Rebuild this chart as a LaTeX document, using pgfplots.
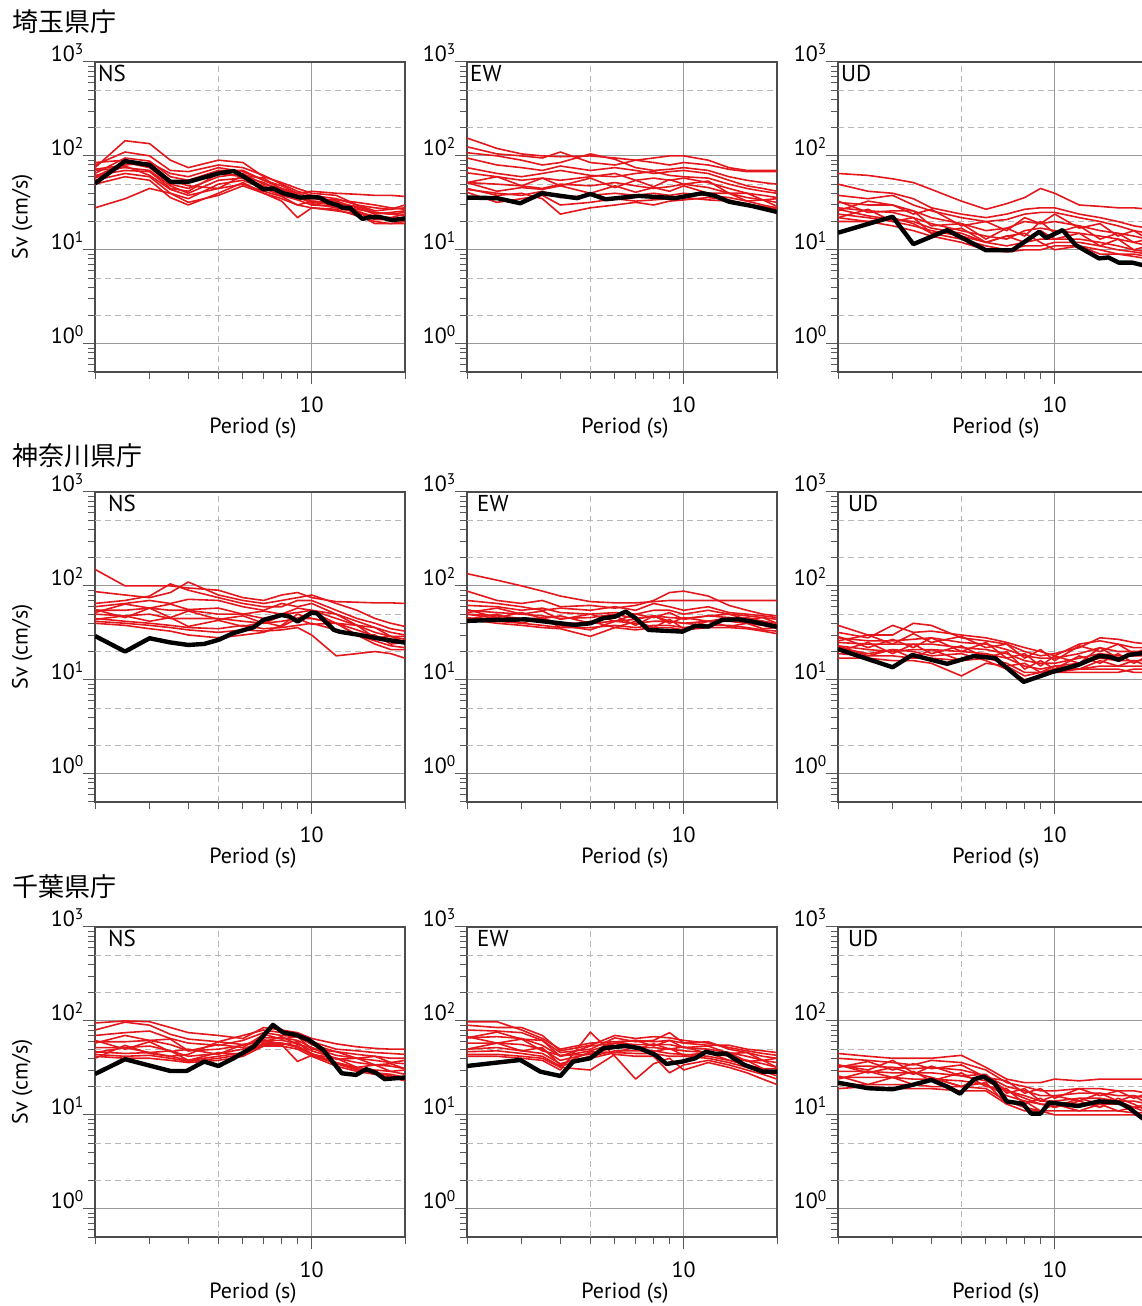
\documentclass[border=0pt]{standalone}
\usepackage{pgfplots}
\pgfplotsset{compat=1.18}
\usepackage{pgfplotstable}
\usepackage{fontspec}
\setmainfont{PT Sans}
\newfontfamily\cjk{Noto Sans CJK JP}
\definecolor{sred}{RGB}{228,24,28}

\pgfplotsset{
 every axis/.append style={
  width=310pt, height=310pt, scale only axis,
  xmin=2, xmax=20, ymin=0.5, ymax=1000,
  xtick={10}, xticklabels={10},
  minor xtick={2,3,4,5,6,7,8,9,20},
  ytick={1,10,100,1000},
  yticklabels={10\textsuperscript{0},10\textsuperscript{1},10\textsuperscript{2},10\textsuperscript{3}},
  minor ytick={0.5,0.6,0.7,0.8,0.9,2,3,4,5,6,7,8,9,20,30,40,50,60,70,80,90,200,300,400,500,600,700,800,900},
  tick align=outside, tick pos=left,
  major tick length=12pt, minor tick length=7pt,
  xmajorgrids, ymajorgrids,
  major grid style={draw=black!40, line width=0.9pt},
  extra x ticks={5}, extra y ticks={2,5,20,50,200,500},
  extra x tick labels={}, extra y tick labels={},
  extra tick style={grid=major, major grid style={draw=black!28, line width=0.9pt, dash pattern=on 6pt off 4pt}, major tick length=0pt},
  axis line style={draw=black!70, line width=1.4pt},
  tick style={draw=black!65, line width=1pt},
  tick label style={font=\fontsize{22}{22}\selectfont, text=black},
  xticklabel style={anchor=north, inner sep=0pt, yshift=-13pt},
  yticklabel style={anchor=base east, inner sep=0pt, xshift=1pt},
  xlabel style={at={(axis description cs:0.5,-0.197)}, anchor=base, xshift=3pt, font=\fontsize{22}{22}\selectfont},
  ylabel style={at={(axis description cs:-0.235,0.5)}, anchor=center, rotate=0, font=\fontsize{22}{22}\selectfont},
  xlabel={Period (s)},
 },
}
\tikzset{
 redl/.style={draw=sred, line width=1.6pt, line join=round, mark=none},
 blk/.style={draw=black, line width=4.4pt, line join=round, mark=none},
 lab/.style={anchor=north west, inner sep=0pt, yshift=-3pt, font=\fontsize{23}{23}\selectfont},
}

% ---------- Row 1: Saitama ----------
\pgfplotstableread{
name c1 c2 c3 c4 c5 c6 c7 c8 c9 c10 c11 c12 c13 c14 c15 c16
P 2 2.5 3 3.5 4 5 6 7 8 9 10 12 14 16 18 20
r1 75 145 135 90 75 90 85 60 52 45 40 38 30 28 27 30
r2 80 110 100 70 68 80 75 62 50 42 38 35 30 26 27 28
r3 65 95 88 60 55 70 70 55 45 40 36 33 28 24 25 26
r4 60 85 75 50 45 60 65 50 45 38 33 32 26 22 22 24
r5 70 75 70 48 40 55 58 48 40 36 32 30 27 25 24 25
r6 55 65 60 40 35 50 55 45 38 34 30 29 25 21 21 22
r7 85 90 80 55 48 45 50 42 37 30 33 31 29 25 24 23
r8 50 60 55 36 30 40 52 40 35 30 28 26 24 19 19 20
r9 28 35 45 40 32 38 48 40 33 22 28 27 23 20 19 19
r10 62 70 68 45 42 65 60 52 42 35 35 34 32 30 28 27
r11 72 80 85 65 60 75 68 55 48 40 42 40 39 38 38 37
r12 58 78 62 44 38 45 62 58 44 38 31 28 25 23 22 21
}\rawAa
\pgfplotstabletranspose[colnames from=name]\tAa{\rawAa}

\pgfplotstableread{
name c1 c2 c3 c4 c5 c6 c7 c8 c9 c10 c11 c12 c13 c14 c15 c16
P 2 2.5 3 3.5 4 5 6 7 8 9 10 12 14 16 18 20
r1 155 120 105 100 98 100 95 90 95 100 100 90 75 70 70 70
r2 125 105 100 95 110 85 80 90 85 80 85 80 72 68 68 68
r3 108 100 90 80 85 105 92 75 70 72 75 70 60 55 52 50
r4 95 80 75 70 78 70 75 70 65 68 70 65 55 48 45 42
r5 75 65 60 65 70 62 60 65 68 62 60 58 50 45 42 40
r6 66 60 55 58 55 60 65 55 58 55 58 52 45 40 38 36
r7 52 60 48 58 48 58 46 55 47 56 50 54 40 40 34 35
r8 52 50 48 45 50 48 52 48 45 47 50 46 40 36 34 32
r9 52 42 46 44 48 40 48 41 46 42 48 40 40 33 34 29
r10 44 40 38 42 36 38 40 38 40 38 40 38 36 33 30 28
r11 41 32 35 38 30 32 35 33 34 35 36 34 33 31 28 26
r12 45 38 40 35 24 28 30 32 30 33 34 36 34 30 29 27
}\rawAb
\pgfplotstabletranspose[colnames from=name]\tAb{\rawAb}

\pgfplotstableread{
name c1 c2 c3 c4 c5 c6 c7 c8 c9 c10 c11 c12 c13 c14 c15 c16
P 2 2.5 3 3.5 4 5 6 7 8 9 10 12 14 16 18 20
r1 65 62 57 52 44 33 27 31 36 45 40 30 29 28 28 27
r2 50 42 40 35 28 24 22 24 27 28 28 24 22 20 18 17
r3 38 35 38 30 26 22 20 21 24 25 25 22 20 18 16 15
r4 26 33 30 24 27 18 20 16 22 19 24 17 19 14 16 13
r5 32 30 30 26 22 19 16 17 20 19 20 18 16 15 14 13
r6 33 25 26 26 18 19 13 17 14 20 15 18 13 15 12 13
r7 28 26 25 22 19 16 14 13 16 17 16 15 14 13 12 11
r8 22 27 20 22 15 17 12 14 12 16 13 15 11 13 10 11
r9 24 22 20 18 16 14 12 11 12 13 13 13 12 11 10 9.5
r10 22 20 22 19 15 13 11 10 11 11 12 12 11 10 9.5 9
r11 20 20 18 16 14 12 10 9.5 10 10 11 11 10 9 8.5 8
r12 27 23 21 20 17 15 12 14 15 12 10 11 9 9 9 8.5
}\rawAc
\pgfplotstabletranspose[colnames from=name]\tAc{\rawAc}

% ---------- Row 2: Kanagawa ----------
\pgfplotstableread{
name c1 c2 c3 c4 c5 c6 c7 c8 c9 c10 c11 c12 c13 c14 c15 c16
P 2 2.5 3 3.5 4 5 6 7 8 9 10 12 14 16 18 20
r1 150 100 100 100 95 90 75 70 80 85 75 68 67 66 66 65
r2 87 80 75 85 110 80 70 65 70 75 80 65 55 45 40 37
r3 65 70 78 105 90 75 65 60 60 70 70 55 45 40 35 33
r4 60 65 70 65 72 70 60 55 65 60 65 50 42 36 32 30
r5 52 64 58 64 56 58 50 54 50 58 55 50 38 36 29 29
r6 55 55 58 55 55 50 50 45 50 52 55 45 38 32 29 27
r7 56 46 58 46 54 44 48 40 48 45 53 40 38 28 29 25
r8 50 48 50 45 45 45 42 40 42 45 45 40 34 29 27 25
r9 44 48 42 46 37 43 37 41 37 45 39 40 30 30 24 25
r10 45 42 40 38 36 35 38 35 36 38 40 34 30 26 23 22
r11 42 40 38 36 34 32 34 33 34 36 30 18 19 20 19 17
r12 40 38 35 33 30 28 30 32 38 50 45 40 30 24 21 21
}\rawBa
\pgfplotstabletranspose[colnames from=name]\tBa{\rawBa}

\pgfplotstableread{
name c1 c2 c3 c4 c5 c6 c7 c8 c9 c10 c11 c12 c13 c14 c15 c16
P 2 2.5 3 3.5 4 5 6 7 8 9 10 12 14 16 18 20
r1 135 115 100 88 78 68 66 66 68 70 70 70 70 70 70 70
r2 88 70 65 70 60 62 58 62 70 85 88 78 62 55 50 48
r3 70 65 60 55 58 55 60 55 65 60 55 60 52 50 48 46
r4 62 60 55 58 52 50 52 50 55 55 50 55 50 48 46 44
r5 52 58 50 54 44 50 42 50 46 52 44 48 50 44 46 40
r6 55 52 50 48 45 46 50 45 48 46 45 48 46 44 42 40
r7 56 46 52 45 48 40 48 38 48 40 46 42 46 40 42 37
r8 50 48 45 45 40 40 42 40 42 42 40 42 42 40 38 36
r9 44 50 40 46 36 42 36 42 36 44 35 42 37 40 35 36
r10 46 42 40 38 36 36 38 36 38 38 36 38 38 36 34 33
r11 44 40 38 36 35 29 36 34 36 36 34 36 36 35 33 31
r12 50 45 44 42 38 34 42 44 48 42 40 38 44 46 42 38
}\rawBb
\pgfplotstabletranspose[colnames from=name]\tBb{\rawBb}

\pgfplotstableread{
name c1 c2 c3 c4 c5 c6 c7 c8 c9 c10 c11 c12 c13 c14 c15 c16
P 2 2.5 3 3.5 4 5 6 7 8 9 10 12 14 16 18 20
r1 38 30 30 40 38 28 26 24 20 18 19 22 28 27 25 24
r2 32 28 38 32 33 30 28 25 22 20 18 24 26 24 22 22
r3 26 30 24 31 25 29 22 24 17 21 16 23 20 24 19 22
r4 28 26 26 27 28 25 24 21 18 17 17 19 22 20 20 20
r5 29 22 27 22 28 20 25 17 19 14 18 15 22 17 20 18
r6 25 24 24 24 24 22 21 19 16 15 15 17 19 18 18 18
r7 20 25 19 24 19 23 17 20 13 16 13 18 15 19 15 18
r8 23 21 20 21 21 20 19 17 14 13 14 15 17 16 16 16
r9 23 18 21 17 21 16 19 14 15 12 14 13 16 14 16 14
r10 19 18 18 17 17 16 17 15 12 12 13 13 14 14 14 14
r11 17 17 16 16 15 11 15 14 11 12 12 12 12 12 13 13
r12 22 19 21 20 18 19 16 13 10 11 12 13 13 13 12 12
}\rawBc
\pgfplotstabletranspose[colnames from=name]\tBc{\rawBc}

% ---------- Row 3: Chiba ----------
\pgfplotstableread{
name c1 c2 c3 c4 c5 c6 c7 c8 c9 c10 c11 c12 c13 c14 c15 c16
P 2 2.5 3 3.5 4 5 6 7 8 9 10 12 14 16 18 20
r1 95 100 98 85 75 70 65 85 80 75 65 57 53 51 50 50
r2 80 97 90 72 64 60 70 80 75 70 60 50 48 46 45 44
r3 70 75 78 65 58 55 62 75 70 68 56 47 44 42 40 40
r4 58 70 62 64 48 56 52 72 64 68 50 47 40 42 36 38
r5 60 60 62 56 48 50 55 66 66 62 52 43 40 38 36 35
r6 62 50 60 47 50 44 56 60 68 56 52 39 40 34 35 31
r7 52 52 54 48 42 45 50 62 62 58 48 40 36 34 33 31
r8 46 52 46 48 38 46 44 63 56 60 44 40 32 34 29 30
r9 47 45 46 42 38 42 46 58 58 54 45 36 32 30 29 27
r10 44 42 43 40 37 40 44 56 56 37 43 35 30 28 27 25
r11 42 40 40 38 36 38 42 54 54 50 42 33 29 27 25 23
r12 40 55 45 42 44 60 56 60 58 52 44 36 31 28 26 24
}\rawCa
\pgfplotstabletranspose[colnames from=name]\tCa{\rawCa}

\pgfplotstableread{
name c1 c2 c3 c4 c5 c6 c7 c8 c9 c10 c11 c12 c13 c14 c15 c16
P 2 2.5 3 3.5 4 5 6 7 8 9 10 12 14 16 18 20
r1 98 98 80 65 50 58 60 62 60 62 58 55 55 50 48 46
r2 90 85 85 70 48 55 70 65 68 66 62 58 52 48 45 43
r3 80 78 75 62 46 50 66 60 62 75 58 60 50 46 42 40
r4 66 76 64 62 42 54 58 62 54 62 52 54 45 46 38 40
r5 66 68 65 55 42 48 58 56 56 56 52 50 46 42 38 36
r6 68 58 64 48 43 44 58 50 57 50 53 45 46 37 38 32
r7 58 58 56 50 38 45 52 52 52 50 48 46 42 38 35 32
r8 50 58 48 52 34 47 46 53 47 51 43 46 38 38 31 31
r9 50 52 48 45 35 42 48 48 48 45 44 42 38 34 31 28
r10 47 48 45 42 33 40 46 45 45 42 42 40 36 32 29 26
r11 44 44 42 40 32 30 44 42 42 28 34 38 34 30 27 24
r12 42 42 40 38 30 76 42 24 35 40 30 36 32 28 24 21
}\rawCb
\pgfplotstabletranspose[colnames from=name]\tCb{\rawCb}

\pgfplotstableread{
name c1 c2 c3 c4 c5 c6 c7 c8 c9 c10 c11 c12 c13 c14 c15 c16
P 2 2.5 3 3.5 4 5 6 7 8 9 10 12 14 16 18 20
r1 45 42 40 40 40 43 32 24 22 22 24 23 24 24 24 24
r2 40 38 36 34 38 36 30 22 20 18 18 19 19 18 18 17
r3 32 37 30 35 31 34 25 23 17 19 15 19 16 18 15 17
r4 33 33 32 31 32 30 26 20 18 16 16 17 17 16 16 15
r5 34 28 32 27 33 26 27 17 19 14 16 14 17 14 16 13
r6 29 29 28 28 28 26 23 18 16 14 14 15 15 14 14 13
r7 24 29 25 29 23 28 20 19 13 15 12 15 13 14 12 13
r8 25 25 25 24 24 23 21 16 14 13 13 13 13 13 12 12
r9 26 21 25 21 25 20 22 13 14 11 13 11 13 11 12 10.5
r10 21 21 21 21 20 20 19 14 12 11 11 11 11 11 10.5 10.5
r11 19 20 19 19 19 18 18 13 11 11 10 10 10 10 10 9.5
r12 34 30 38 28 25 20 26 18 15 13 12 14 12 15 13 11
}\rawCc
\pgfplotstabletranspose[colnames from=name]\tCc{\rawCc}

\begin{document}
\begin{tikzpicture}
% ===== Row 1 =====
\node[anchor=west, inner sep=0pt, font=\cjk\fontsize{26}{26}\selectfont] at (12pt,1284pt) {埼玉県庁};
\begin{loglogaxis}[at={(95pt,934pt)}, ylabel={Sv (cm/s)}]
\pgfplotsinvokeforeach{1,...,12}{\addplot[redl] table[x=P,y=r#1]{\tAa};}
\addplot[blk] coordinates {(2,51)(2.5,88)(3,80)(3.5,53)(4,53)(5,65)(5.6,69)(6,61)(7,44)(7.5,45)(8.1,40)(9.2,36)(10,36.5)(10.6,36)(11.3,32)(12.1,30)(12.6,28)(13.3,28)(13.8,24.7)(14.6,21.3)(15.4,22.3)(16.6,22.3)(18.2,20.7)(20,21.6)};
\node[lab, xshift=3pt] at (rel axis cs:0,1) {NS};
\end{loglogaxis}
\begin{loglogaxis}[at={(467pt,934pt)}]
\pgfplotsinvokeforeach{1,...,12}{\addplot[redl] table[x=P,y=r#1]{\tAb};}
\addplot[blk] coordinates {(2,36)(2.5,35.5)(2.97,31.3)(3.49,40)(4.53,35.5)(5,39.4)(5.6,34.5)(7.16,37.5)(9.4,35.5)(11.46,40)(12.5,38)(14,32.5)(16.6,29.3)(19.8,25.5)(20,25.3)};
\node[lab, xshift=3pt] at (rel axis cs:0,1) {EW};
\end{loglogaxis}
\begin{loglogaxis}[at={(838pt,934pt)}]
\pgfplotsinvokeforeach{1,...,12}{\addplot[redl] table[x=P,y=r#1]{\tAc};}
\addplot[blk] coordinates {(2,15.2)(3,22.5)(3.5,11.5)(4.5,16.2)(6,9.9)(7.3,9.9)(8.9,15.5)(9.4,13.4)(10.6,16.2)(11.7,11.2)(13.9,8.1)(14.9,8.3)(16.1,7.3)(17.8,7.3)(19.1,6.9)(20,6.6)};
\node[lab, xshift=3pt] at (rel axis cs:0,1) {UD};
\end{loglogaxis}
% ===== Row 2 =====
\node[anchor=west, inner sep=0pt, font=\cjk\fontsize{26}{26}\selectfont] at (12pt,850pt) {神奈川県庁};
\begin{loglogaxis}[at={(95pt,504pt)}, ylabel={Sv (cm/s)}]
\pgfplotsinvokeforeach{1,...,12}{\addplot[redl] table[x=P,y=r#1]{\tBa};}
\addplot[blk] coordinates {(2,29.3)(2.5,20)(3,27.7)(3.5,25)(4,23.5)(4.5,24.1)(5,26.6)(5.6,31.5)(6.5,36.3)(7,43.5)(8,49)(8.5,47)(9,41.7)(10,52)(10.4,51)(11.8,34)(12.3,32.5)(14.3,30)(17,27)(20,24.9)};
\node[lab, xshift=13pt] at (rel axis cs:0,1) {NS};
\end{loglogaxis}
\begin{loglogaxis}[at={(467pt,504pt)}]
\pgfplotsinvokeforeach{1,...,12}{\addplot[redl] table[x=P,y=r#1]{\tBb};}
\addplot[blk] coordinates {(2,42.4)(2.5,43.5)(3.1,44)(4.45,38.4)(5,40)(5.5,45.3)(6,47)(6.5,53.3)(7,45.3)(7.7,34)(8.5,33.4)(9.9,32.6)(10.9,37.5)(12,36.9)(13.3,43.5)(15,44)(16.6,41.7)(19.8,36.9)(20,36.5)};
\node[lab, xshift=10pt] at (rel axis cs:0,1) {EW};
\end{loglogaxis}
\begin{loglogaxis}[at={(838pt,504pt)}]
\pgfplotsinvokeforeach{1,...,12}{\addplot[redl] table[x=P,y=r#1]{\tBc};}
\addplot[blk] coordinates {(2,21.2)(3,13.6)(3.47,18.4)(4.5,14.8)(5.48,17.9)(6.43,17)(7.94,9.5)(9.8,12.1)(11.9,14.4)(13.9,17.9)(15,17.6)(16.1,16.3)(17.3,18.4)(19.1,19.2)(20,19.5)};
\node[lab, xshift=10pt] at (rel axis cs:0,1) {UD};
\end{loglogaxis}
% ===== Row 3 =====
\node[anchor=west, inner sep=0pt, font=\cjk\fontsize{26}{26}\selectfont] at (12pt,419pt) {千葉県庁};
\begin{loglogaxis}[at={(95pt,69pt)}, ylabel={Sv (cm/s)}]
\pgfplotsinvokeforeach{1,...,12}{\addplot[redl] table[x=P,y=r#1]{\tCa};}
\addplot[blk] coordinates {(2,27.2)(2.5,39.1)(3.5,29.3)(3.95,29.3)(4.5,36.9)(5,33.1)(5.6,40)(6.5,53.2)(7.5,90.6)(8.1,75)(8.9,71)(9.8,62.7)(10.9,49)(12.5,27.7)(13.9,26.6)(15,30.6)(16.2,27.7)(17.2,24)(19.8,24.9)(20,25)};
\node[lab, xshift=13pt] at (rel axis cs:0,1) {NS};
\end{loglogaxis}
\begin{loglogaxis}[at={(467pt,69pt)}]
\pgfplotsinvokeforeach{1,...,12}{\addplot[redl] table[x=P,y=r#1]{\tCb};}
\addplot[blk] coordinates {(2,33.1)(2.97,38.4)(3.45,28.8)(4,25.9)(4.4,36.9)(5,40)(5.5,51.2)(6.5,54.2)(7.2,51.2)(8.1,43.5)(8.8,34.8)(9.9,36.9)(10.9,40)(11.8,47)(12.7,44.5)(13.7,45)(15.7,34)(18,28.8)(20,28.8)};
\node[lab, xshift=10pt] at (rel axis cs:0,1) {EW};
\end{loglogaxis}
\begin{loglogaxis}[at={(838pt,69pt)}]
\pgfplotsinvokeforeach{1,...,12}{\addplot[redl] table[x=P,y=r#1]{\tCc};}
\addplot[blk] coordinates {(2,22)(2.5,19.2)(3,18.7)(3.47,20.8)(4,23.5)(4.5,20)(4.95,16.8)(5.5,24)(5.9,25.5)(6.4,21.7)(7,13.9)(7.9,13.1)(8.4,10.3)(9,10.3)(9.6,13.5)(10.6,13)(11.9,12.4)(13.9,13.9)(16.1,13.5)(17.3,12)(19.1,9.3)(20,8.5)};
\node[lab, xshift=10pt] at (rel axis cs:0,1) {UD};
\end{loglogaxis}
\pgfresetboundingbox
\path[use as bounding box] (0pt,0pt) rectangle (1142pt,1306pt);
\end{tikzpicture}
\end{document}
